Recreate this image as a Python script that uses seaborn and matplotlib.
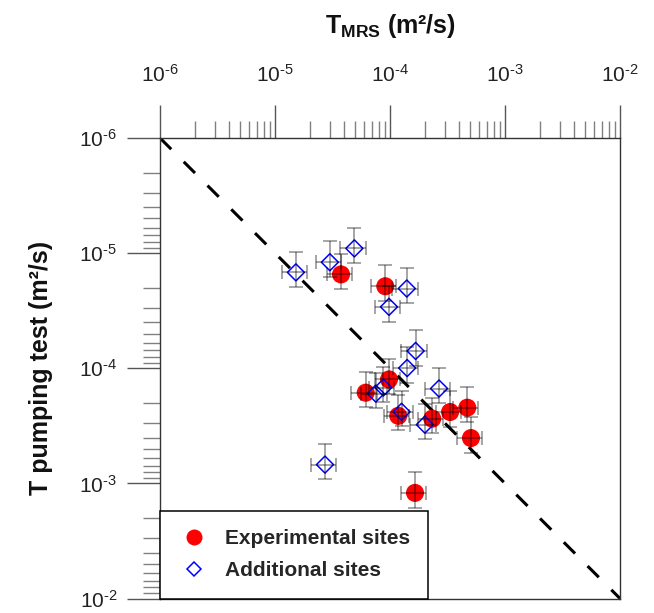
import numpy as np
import matplotlib
matplotlib.use("Agg")
import matplotlib.pyplot as plt
import seaborn as sns
from matplotlib.lines import Line2D
from matplotlib.ticker import LogLocator, NullFormatter, FuncFormatter

# Transmissivity estimates (m²/s): MRS inversion vs. pumping-test interpretation
series_labels = ["Experimental sites", "Additional sites"]

exp_tmrs = [3.75e-5, 9.1e-5, 9.8e-5, 6.15e-5, 1.18e-4, 2.33e-4, 3.33e-4, 4.7e-4, 5.06e-4, 1.65e-4]
exp_tpump = [1.53e-5, 1.94e-5, 1.25e-4, 1.63e-4, 2.59e-4, 2.74e-4, 2.40e-4, 2.20e-4, 4.04e-4, 1.21e-3]

add_tmrs = [1.52e-5, 3.0e-5, 4.9e-5, 1.40e-4, 9.8e-5, 1.67e-4, 1.41e-4, 8.75e-5,
            7.52e-5, 2.67e-4, 1.26e-4, 2.01e-4, 2.72e-5]
add_tpump = [1.47e-5, 1.20e-5, 9.1e-6, 2.03e-5, 2.93e-5, 7.08e-5, 9.96e-5, 1.47e-4,
             1.66e-4, 1.50e-4, 2.39e-4, 3.09e-4, 6.87e-4]

# relative uncertainty of each estimate
tmrs_rel_err = 0.25
tpump_rel_err = 0.34

# 1:1 reference line
one_to_one = [1e-6, 1e-2]

sns.set_theme(style="white")
plt.rcParams["font.family"] = ["Liberation Sans", "DejaVu Sans"]
plt.rcParams["mathtext.fontset"] = "custom"
plt.rcParams["mathtext.rm"] = "Liberation Sans"
plt.rcParams["mathtext.bf"] = "Liberation Sans:bold"
plt.rcParams["mathtext.it"] = "Liberation Sans:italic"

fig = plt.figure(figsize=(6.54, 6.13), dpi=100)
ax = fig.add_axes([160 / 654, 1 - 598.5 / 613, 460 / 654, 460.5 / 613])
ax.set_xscale("log")
ax.set_yscale("log")

ax.plot(one_to_one, one_to_one, color="black", lw=2.2,
        linestyle=(0, (5.2, 5.8)), zorder=2)

sns.scatterplot(x=exp_tmrs, y=exp_tpump, marker="o", s=169, color="#ff0000",
                edgecolor="none", linewidth=0, ax=ax, zorder=3, legend=False)
sns.scatterplot(x=add_tmrs, y=add_tpump, marker="D", s=75, color="#0000ff",
                facecolor="none", edgecolor="#0000ff", linewidth=1.1, ax=ax,
                zorder=3, legend=False)

for xs, ys in [(exp_tmrs, exp_tpump), (add_tmrs, add_tpump)]:
    xs = np.asarray(xs)
    ys = np.asarray(ys)
    ax.errorbar(xs, ys, xerr=xs * tmrs_rel_err, yerr=ys * tpump_rel_err,
                fmt="none", ecolor="black", alpha=0.45, elinewidth=1.1,
                capsize=5, capthick=1.1, zorder=4)

ax.set_xlim(1e-6, 1e-2)
ax.set_ylim(1e-2, 1e-6)


def decade_label(val, pos):
    exp = int(round(np.log10(val)))
    return r"10$^{\text{%d}}$" % exp


for axis in (ax.xaxis, ax.yaxis):
    axis.set_major_locator(LogLocator(base=10, numticks=10))
    axis.set_major_formatter(FuncFormatter(decade_label))
    axis.set_minor_locator(LogLocator(base=10, subs=np.arange(2, 10), numticks=50))
    axis.set_minor_formatter(NullFormatter())

ax.xaxis.tick_top()
ax.xaxis.set_label_position("top")
ax.tick_params(which="major", direction="out", length=23.8, width=1.0,
               color="#555555", labelsize=15, labelcolor="#222222")
ax.tick_params(which="minor", direction="out", length=12.2, width=1.0,
               color="#808080")
ax.tick_params(axis="x", which="both", top=True, bottom=False, pad=14)
ax.tick_params(axis="y", which="both", left=True, right=False, pad=7)

for sp in ax.spines.values():
    sp.set_visible(True)
    sp.set_color("#333333")
    sp.set_linewidth(1.0)

ax.set_xlabel(r"$\mathbf{T}_{\mathbf{MRS}}$ (m²/s)", fontsize=18,
              fontweight="bold", labelpad=22, color="#111111")
ax.set_ylabel("T pumping test (m²/s)", fontsize=18, fontweight="bold",
              labelpad=19, color="#111111")

handles = [
    Line2D([], [], marker="o", ls="none", color="#ff0000", mec="none",
           markersize=11.5),
    Line2D([], [], marker="D", ls="none", mfc="none", mec="#0000ff",
           mew=1.1, markersize=7.5),
]
leg = ax.legend(handles, series_labels, loc="lower left", bbox_to_anchor=(0, 0),
                borderaxespad=0, frameon=True, fancybox=False, framealpha=1,
                prop={"weight": "bold", "size": 15}, borderpad=0.87,
                labelspacing=0.62, handlelength=1.55, handletextpad=0.68,
                edgecolor="black")
leg.get_frame().set_linewidth(1.1)
leg.set_zorder(5)

fig.savefig("out.png", dpi=100)
